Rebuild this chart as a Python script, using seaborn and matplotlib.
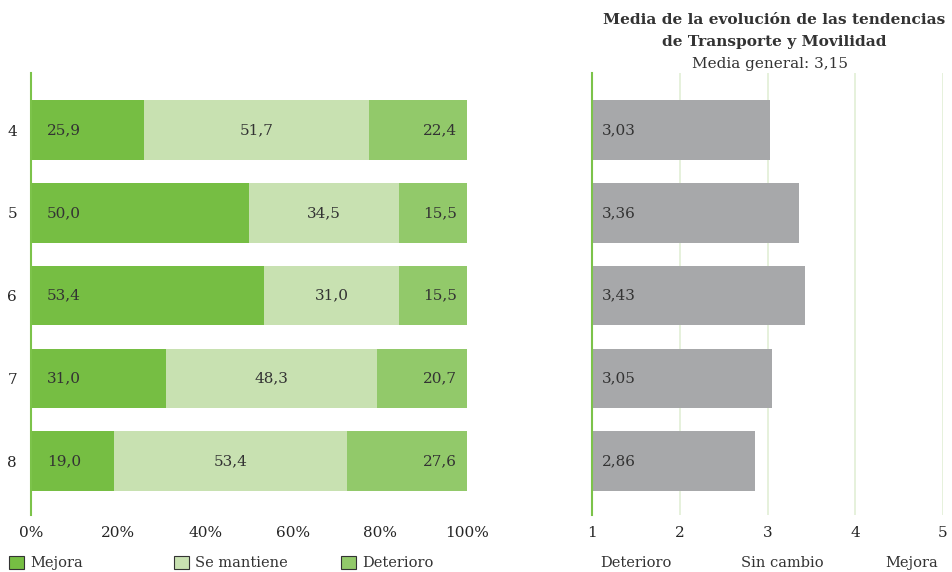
import matplotlib
matplotlib.use("Agg")
import matplotlib.pyplot as plt
from matplotlib.patches import Patch
import seaborn as sns
import pandas as pd
import numpy as np

categories = ["4", "5", "6", "7", "8"]
mejora = [25.9, 50.0, 53.4, 31.0, 19.0]
se_mantiene = [51.7, 34.5, 31.0, 48.3, 53.4]
deterioro = [22.4, 15.5, 15.5, 20.7, 27.6]
medias = [3.03, 3.36, 3.43, 3.05, 2.86]
media_general = "3,15"
series_names = ["Mejora", "Se mantiene", "Deterioro"]
scale_labels = ["Deterioro", "Sin cambio", "Mejora"]

C_MEJORA = "#76be43"
C_MANTIENE = "#c8e1b1"
C_DETERIORO = "#92c96a"
C_GRIS = "#a7a8aa"
C_TEXT = "#333333"
C_AXIS = "#7cc34a"
C_GRID = "#e2efd6"

sns.set_theme(style="white")
plt.rcParams["font.family"] = ["DejaVu Serif"]
plt.rcParams["text.color"] = C_TEXT

df = pd.DataFrame({
    "cat": categories,
    "mejora": mejora,
    "mantiene": se_mantiene,
    "deterioro": deterioro,
    "media": medias,
})
df["cum2"] = df["mejora"] + df["mantiene"]
df["cum3"] = df["cum2"] + df["deterioro"]

W, H = 952, 572
fig = plt.figure(figsize=(W / 100, H / 100), dpi=100)

def fx(px):
    return px / W

def fy(py):
    return 1 - py / H

top_px, bot_px = 73, 515
ax1 = fig.add_axes([fx(31), fy(bot_px), fx(467 - 31), (bot_px - top_px) / H])
ax2 = fig.add_axes([fx(592), fy(bot_px), fx(943 - 592), (bot_px - top_px) / H])

bw = 0.72
# stacked bars: draw cumulative totals back to front
sns.barplot(data=df, y="cat", x="cum3", color=C_DETERIORO, orient="h", width=bw,
            saturation=1, ax=ax1)
sns.barplot(data=df, y="cat", x="cum2", color=C_MANTIENE, orient="h", width=bw,
            saturation=1, ax=ax1)
sns.barplot(data=df, y="cat", x="mejora", color=C_MEJORA, orient="h", width=bw,
            saturation=1, ax=ax1)
for p in ax1.patches:
    p.set_linewidth(0)

fs = 11
for i, row in df.iterrows():
    ax1.text(3.7, i, f"{row['mejora']:.1f}".replace(".", ","), va="center", ha="left", fontsize=fs)
    ax1.text(row["mejora"] + row["mantiene"] / 2, i, f"{row['mantiene']:.1f}".replace(".", ","),
             va="center", ha="center", fontsize=fs)
    ax1.text(row["cum3"] - 2.3, i, f"{row['deterioro']:.1f}".replace(".", ","),
             va="center", ha="right", fontsize=fs)

ax1.set_xlim(0, 100)
ax1.set_ylim(4.65, -0.69)
ax1.set_xticks([0, 20, 40, 60, 80, 100])
ax1.set_xticklabels(["0%", "20%", "40%", "60%", "80%", "100%"], fontsize=fs)
ax1.tick_params(axis="y", labelsize=fs, length=0, pad=10)
ax1.tick_params(axis="x", length=0, pad=8)
ax1.set_xlabel("")
ax1.set_ylabel("")
for s in ["top", "right", "bottom"]:
    ax1.spines[s].set_visible(False)
ax1.spines["left"].set_color(C_AXIS)
ax1.spines["left"].set_linewidth(1.5)

# mean panel
for v in [2, 3, 4, 5]:
    ax2.axvline(v, color=C_GRID, lw=1.2, zorder=0)
sns.barplot(data=df, y="cat", x="media", color=C_GRIS, orient="h", width=bw,
            saturation=1, ax=ax2, zorder=2)
for p in ax2.patches:
    p.set_linewidth(0)
for i, row in df.iterrows():
    ax2.text(1.11, i, f"{row['media']:.2f}".replace(".", ","), va="center", ha="left",
             fontsize=fs, zorder=3)
ax2.set_xlim(1, 5)
ax2.set_ylim(4.65, -0.69)
ax2.set_xticks([1, 2, 3, 4, 5])
ax2.set_xticklabels(["1", "2", "3", "4", "5"], fontsize=fs)
ax2.set_yticks([])
ax2.tick_params(axis="x", length=0, pad=8)
ax2.set_xlabel("")
ax2.set_ylabel("")
for s in ["top", "right", "bottom"]:
    ax2.spines[s].set_visible(False)
ax2.spines["left"].set_color(C_AXIS)
ax2.spines["left"].set_linewidth(1.5)

fig.text(fx(774), fy(20), "Media de la evolución de las tendencias", ha="center",
         va="center", fontsize=11.1, fontweight="bold")
fig.text(fx(774), fy(42), "de Transporte y Movilidad", ha="center", va="center",
         fontsize=11.1, fontweight="bold")
fig.text(fx(770), fy(64), f"Media general: {media_general}", ha="center", va="center",
         fontsize=11)

for lab, xc in zip(scale_labels, [636, 782, 912]):
    fig.text(fx(xc), fy(563), lab, ha="center", va="center", fontsize=10.5)

# legend entries placed individually
for name, c, xl in zip(series_names, [C_MEJORA, C_MANTIENE, C_DETERIORO], [9, 174, 341]):
    h = Patch(facecolor=c, edgecolor=C_TEXT, linewidth=0.8)
    fig.legend([h], [name], loc="center left", bbox_to_anchor=(fx(xl), fy(563)),
               frameon=False, fontsize=10.5, handlelength=1.0, handleheight=1.0,
               handletextpad=0.45, borderaxespad=0, borderpad=0)

fig.savefig("out.png", dpi=100)
